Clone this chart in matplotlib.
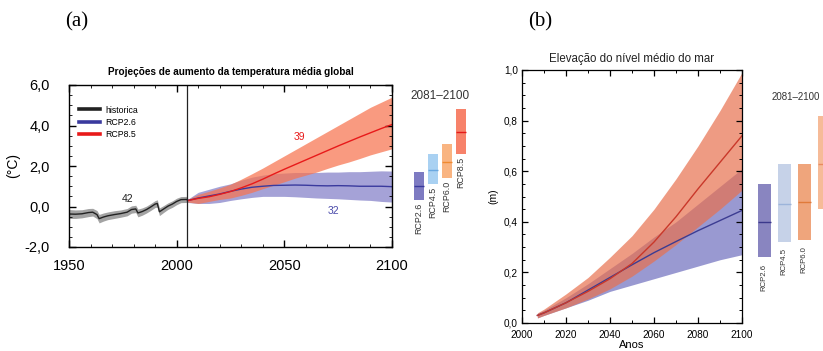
import matplotlib
matplotlib.use('Agg')
import matplotlib.pyplot as plt
from matplotlib.ticker import MultipleLocator, FuncFormatter
from matplotlib.lines import Line2D

plt.rcParams['font.family'] = ['Liberation Sans', 'DejaVu Sans']

# --- (a) temperatura media global ---
hist_years = [1950, 1953, 1956, 1959, 1961, 1963, 1964, 1966, 1968, 1971, 1974, 1977,
              1979, 1981, 1982, 1984, 1986, 1988, 1990, 1991, 1992, 1994, 1996, 1998,
              2000, 2002, 2005]
hist_mean = [-0.37, -0.38, -0.36, -0.30, -0.28, -0.40, -0.60, -0.52, -0.46, -0.40, -0.35, -0.28,
             -0.15, -0.12, -0.32, -0.25, -0.15, -0.02, 0.12, 0.15, -0.26, -0.12, 0.02, 0.12,
             0.25, 0.34, 0.35]
hist_spread = [0.22, 0.21, 0.20, 0.20, 0.19, 0.20, 0.21, 0.20, 0.19, 0.19, 0.18, 0.18,
               0.18, 0.18, 0.19, 0.18, 0.17, 0.17, 0.17, 0.18, 0.19, 0.17, 0.16, 0.16,
               0.16, 0.15, 0.15]

proj_years = [2005, 2010, 2015, 2020, 2025, 2030, 2035, 2040, 2045, 2050,
              2055, 2060, 2065, 2070, 2075, 2080, 2085, 2090, 2095, 2100]
rcp85_mean = [0.29, 0.40, 0.48, 0.60, 0.74, 0.92, 1.12, 1.35, 1.60, 1.84,
              2.07, 2.30, 2.53, 2.76, 2.99, 3.21, 3.43, 3.64, 3.85, 4.05]
rcp85_high = [0.35, 0.60, 0.75, 0.92, 1.10, 1.35, 1.62, 1.90, 2.20, 2.50,
              2.80, 3.10, 3.40, 3.70, 4.00, 4.30, 4.60, 4.90, 5.15, 5.40]
rcp85_low = [0.22, 0.15, 0.25, 0.35, 0.42, 0.55, 0.70, 0.88, 1.05, 1.22,
             1.40, 1.55, 1.70, 1.88, 2.05, 2.20, 2.37, 2.55, 2.70, 2.85]
rcp26_mean = [0.29, 0.42, 0.52, 0.62, 0.75, 0.86, 0.95, 1.00, 1.04, 1.05,
              1.06, 1.05, 1.03, 1.02, 1.03, 1.02, 1.00, 1.00, 1.00, 0.98]
rcp26_high = [0.35, 0.70, 0.85, 1.00, 1.12, 1.30, 1.45, 1.55, 1.62, 1.65,
              1.68, 1.68, 1.68, 1.70, 1.70, 1.72, 1.72, 1.74, 1.76, 1.75]
rcp26_low = [0.20, 0.15, 0.15, 0.20, 0.30, 0.38, 0.45, 0.50, 0.50, 0.50,
             0.48, 0.45, 0.42, 0.40, 0.38, 0.35, 0.32, 0.30, 0.25, 0.22]

scenarios = ['RCP2.6', 'RCP4.5', 'RCP6.0', 'RCP8.5']
temp_bar_mean = [1.0, 1.8, 2.2, 3.7]
temp_bar_low = [0.3, 1.1, 1.4, 2.6]
temp_bar_high = [1.7, 2.6, 3.1, 4.8]

# --- (b) elevacao do nivel do mar ---
sea_years = [2007, 2010, 2020, 2030, 2040, 2050, 2060, 2070, 2080, 2090, 2100]
sea85_mean = [0.030, 0.040, 0.080, 0.125, 0.175, 0.235, 0.320, 0.420, 0.530, 0.635, 0.740]
sea85_high = [0.040, 0.055, 0.115, 0.180, 0.260, 0.345, 0.450, 0.570, 0.700, 0.840, 0.990]
sea85_low = [0.020, 0.030, 0.060, 0.095, 0.135, 0.185, 0.245, 0.310, 0.380, 0.450, 0.525]
sea26_mean = [0.030, 0.040, 0.080, 0.130, 0.180, 0.230, 0.278, 0.322, 0.365, 0.405, 0.445]
sea26_high = [0.038, 0.050, 0.100, 0.155, 0.215, 0.275, 0.340, 0.400, 0.470, 0.540, 0.610]
sea26_low = [0.020, 0.030, 0.060, 0.090, 0.125, 0.150, 0.175, 0.200, 0.225, 0.250, 0.270]

sea_bar_mean = [0.40, 0.47, 0.48, 0.63]
sea_bar_low = [0.26, 0.32, 0.33, 0.45]
sea_bar_high = [0.55, 0.63, 0.63, 0.82]

comma = FuncFormatter(lambda v, p: f'{v:.1f}'.replace('.', ','))

W, H = 823, 351


def px_axes(fig, left, top, right, bottom):
    return fig.add_axes([left / W, 1 - bottom / H, (right - left) / W, (bottom - top) / H])


def draw_bars(ax, low, high, mean, fills, lines, width, fontsize, gap, labels):
    for i in range(len(low)):
        x = i + 1
        ax.bar(x, high[i] - low[i], bottom=low[i], width=width, color=fills[i], linewidth=0)
        ax.hlines(mean[i], x - width / 2, x + width / 2, color=lines[i], lw=1.0)
    for i, name in enumerate(labels):
        ax.text(i + 1, low[i] - gap, name, rotation=90, ha='center', va='top',
                fontsize=fontsize, color='#333333')
    ax.set_xlim(0, 5)
    ax.axis('off')


fig = plt.figure(figsize=(W / 100, H / 100), dpi=100)

# ---------------- painel (a) ----------------
ax1 = px_axes(fig, 69, 85, 392, 247)
ax1.fill_between(hist_years, [m - s for m, s in zip(hist_mean, hist_spread)],
                 [m + s for m, s in zip(hist_mean, hist_spread)],
                 color='#a3a3a3', lw=0)
ax1.fill_between(proj_years, rcp26_low, rcp26_high, color='#7a77c4', alpha=0.68, lw=0)
ax1.fill_between(proj_years, rcp85_low, rcp85_high, color='#f7744f', alpha=0.72, lw=0)
ax1.plot(hist_years, hist_mean, color='#222222', lw=1.0)
ax1.plot(proj_years, rcp26_mean, color='#3a3a9e', lw=1.0)
ax1.plot(proj_years, rcp85_mean, color='#e81a1a', lw=1.0)
ax1.axvline(2005, color='#222222', lw=0.9)

ax1.set_xlim(1950, 2100)
ax1.set_ylim(-2, 6)
ax1.xaxis.set_major_locator(MultipleLocator(50))
ax1.xaxis.set_minor_locator(MultipleLocator(10))
ax1.yaxis.set_major_locator(MultipleLocator(2))
ax1.yaxis.set_minor_locator(MultipleLocator(0.5))
ax1.yaxis.set_major_formatter(comma)
ax1.tick_params(which='both', direction='in', top=True, right=True, labelsize=10.5)
ax1.tick_params(axis='x', pad=9)
ax1.tick_params(axis='y', pad=14)
ax1.tick_params(which='major', length=5, width=1.0)
ax1.tick_params(which='minor', length=2.5, width=0.6)
for s in ax1.spines.values():
    s.set_linewidth(1.0)
ax1.set_ylabel('(°C)', fontsize=10, labelpad=3)
ax1.set_title('Projeções de aumento da temperatura média global', fontsize=7.2,
              fontweight='bold', pad=7)

ax1.text(1977, 0.35, '42', fontsize=7.5, color='#222222', ha='center', va='center')
ax1.text(2057, 3.45, '39', fontsize=7.5, color='#e81a1a', ha='center', va='center')
ax1.text(2073, -0.2, '32', fontsize=7.5, color='#4a4aaa', ha='center', va='center')

handles = [Line2D([], [], color='#222222', lw=2.6),
           Line2D([], [], color='#3a3a9e', lw=2.6),
           Line2D([], [], color='#e81a1a', lw=2.6)]
ax1.legend(handles, ['historica', 'RCP2.6', 'RCP8.5'], loc='upper left',
           bbox_to_anchor=(0.02, 0.895), frameon=False, fontsize=6.3,
           handlelength=2.4, handletextpad=0.6, labelspacing=0.35, borderaxespad=0)

fig.text(77 / W, 1 - 22 / H, '(a)', family='Liberation Serif', fontsize=15,
         ha='center', va='center')

bars_a = px_axes(fig, 405, 85, 475, 247)
bars_a.set_ylim(-2, 6)
draw_bars(bars_a, temp_bar_low, temp_bar_high, temp_bar_mean,
          ['#7e7bc2', '#a9d1f2', '#f9b481', '#f7826a'],
          ['#3a3a9e', '#6aa8e0', '#ef8a30', '#e41a1a'],
          0.68, 6.4, 0.12, scenarios)
bars_a.text(2.5, 5.45, '2081–2100', fontsize=8.5, ha='center', va='center', color='#333333')

# ---------------- painel (b) ----------------
ax2 = px_axes(fig, 522, 70, 742, 323)
ax2.fill_between(sea_years, sea26_low, sea26_high, color='#8080c6', alpha=0.8, lw=0)
ax2.fill_between(sea_years, sea85_low, sea85_high, color='#e8714f', alpha=0.7, lw=0)
ax2.plot(sea_years, sea26_mean, color='#3c3c92', lw=1.0)
ax2.plot(sea_years, sea85_mean, color='#c9382a', lw=1.0)

ax2.set_xlim(2000, 2100)
ax2.set_ylim(0, 1.0)
ax2.xaxis.set_major_locator(MultipleLocator(20))
ax2.xaxis.set_minor_locator(MultipleLocator(10))
ax2.yaxis.set_major_locator(MultipleLocator(0.2))
ax2.yaxis.set_minor_locator(MultipleLocator(0.05))
ax2.yaxis.set_major_formatter(comma)
ax2.tick_params(which='both', direction='in', top=True, right=True, labelsize=7.2, pad=3)
ax2.tick_params(axis='x', pad=5)
ax2.tick_params(which='major', length=4, width=0.9)
ax2.tick_params(which='minor', length=2.5, width=0.7)
for s in ax2.spines.values():
    s.set_linewidth(0.9)
ax2.set_ylabel('(m)', fontsize=7.5, labelpad=4)
ax2.set_xlabel('Anos', fontsize=8, labelpad=0)
ax2.set_title('Elevação do nível médio do mar', fontsize=8.3, pad=6, color='#222222')

fig.text(540 / W, 1 - 22 / H, '(b)', family='Liberation Serif', fontsize=15,
         ha='center', va='center')

# the RCP8.5 bar of this group runs past the right edge, so only three labels fit
bars_b = fig.add_axes([744 / W, 1 - 323 / H, 100 / W, 253 / H])
bars_b.set_ylim(0, 1.0)
draw_bars(bars_b, sea_bar_low, sea_bar_high, sea_bar_mean,
          ['#8985c0', '#c6d2e8', '#efa57c', '#f6bb98'],
          ['#3b388c', '#9cb4da', '#e07a3a', '#e88a60'],
          0.65, 5.6, 0.025, scenarios[:3])
bars_b.text(2.6, 0.895, '2081–2100', fontsize=7, ha='center', va='center', color='#333333')

fig.savefig('out.png', dpi=100)
